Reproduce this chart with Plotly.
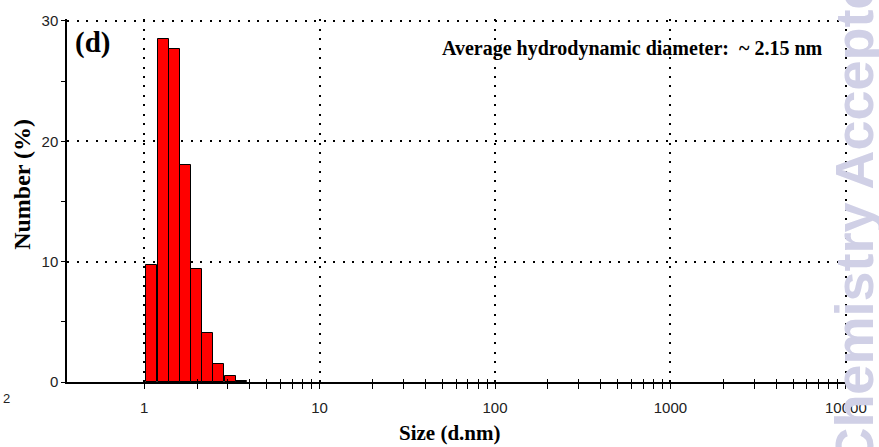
import numpy as np
import plotly.graph_objects as go

# Data
size_nm = [1.106, 1.281, 1.484, 1.718, 1.990, 2.305, 2.669, 3.091, 3.580]
number_pct = [9.7, 28.5, 27.7, 18.0, 9.4, 4.1, 1.5, 0.5, 0.08]
xtick_vals = [1, 10, 100, 1000, 10000]
xtick_text = ["1", "10", "100", "1000", "10000"]
ytick_vals = [0, 10, 20, 30]

bin_width_dec = 0.0628  # Malvern log bin width (decades)
XR = [-0.44, 4.012]
YR = [0, 30.16]

x_log = np.log10(size_nm)
minor_vals = [float(np.log10(m * d)) for d in [1, 10, 100, 1000] for m in range(2, 10)]

fig = go.Figure()
fig.add_trace(go.Bar(
    x=x_log, y=number_pct, width=bin_width_dec,
    marker=dict(color="#ff0000", line=dict(color="black", width=1)),
    showlegend=False,
))
# empty helper trace so the overlay axis (inner tick halves) is drawn
fig.add_trace(go.Scatter(x=[None], y=[None], xaxis="x2", yaxis="y",
                         mode="markers", showlegend=False, hoverinfo="skip"))

grid = dict(showgrid=True, gridcolor="black", gridwidth=2, griddash="2px,7.5px")

fig.update_layout(
    width=879, height=447,
    margin=dict(l=67, r=24, t=16, b=65),
    plot_bgcolor="rgba(0,0,0,0)", paper_bgcolor="white",
    bargap=0,
    xaxis=dict(
        range=XR, tickmode="array",
        tickvals=np.log10(xtick_vals), ticktext=xtick_text,
        ticks="outside", ticklen=5, tickcolor="black", tickwidth=1,
        showline=True, linecolor="black", linewidth=1.5,
        zeroline=False,
        tickfont=dict(family="Liberation Sans, Arial", size=15, color="#222"),
        ticklabelstandoff=6,
        minor=dict(tickvals=minor_vals, ticks="outside", ticklen=5,
                   tickcolor="black", tickwidth=1, showgrid=False),
        **grid,
    ),
    xaxis2=dict(
        overlaying="x", anchor="y", side="bottom", range=XR,
        tickmode="array", tickvals=minor_vals, ticks="inside", ticklen=3,
        tickcolor="black", showticklabels=False, showgrid=False,
        zeroline=False, showline=False,
    ),
    yaxis=dict(
        range=YR, tickmode="array", tickvals=ytick_vals,
        ticks="outside", ticklen=4, tickcolor="black",
        showline=True, linecolor="black", linewidth=1.5,
        zeroline=False,
        tickfont=dict(family="Liberation Sans, Arial", size=15, color="#222"),
        minor=dict(tickvals=[5, 15, 25], ticks="outside", ticklen=4,
                   tickcolor="black", showgrid=False),
        **grid,
    ),
    annotations=[
        dict(text="<b>Chemistry Accepted</b>", textangle=-90, xref="paper", yref="paper",
             x=0.967, y=-0.238, xanchor="left", yanchor="bottom", showarrow=False,
             font=dict(family="Liberation Sans, Arial", size=54, color="#d0d0e6"),
             ),
        dict(text="<b>(d)</b>", xref="paper", yref="paper", x=0.008, y=0.985,
             xanchor="left", yanchor="top", showarrow=False,
             font=dict(family="Liberation Serif, Times New Roman", size=29, color="black")),
        dict(text="<b>Average hydrodynamic diameter:  ~ 2.15 nm</b>", xref="paper", yref="paper",
             x=0.971, y=0.955, xanchor="right", yanchor="top", showarrow=False,
             font=dict(family="Liberation Serif, Times New Roman", size=20, color="black")),
        dict(text="<b>Number (%)</b>", textangle=-90, xref="paper", yref="paper",
             x=-0.058, y=0.545, xanchor="center", yanchor="middle", showarrow=False,
             font=dict(family="Liberation Serif, Times New Roman", size=24, color="black")),
        dict(text="<b>Size (d.nm)</b>", xref="paper", yref="paper",
             x=0.49, y=-0.102, xanchor="center", yanchor="top", showarrow=False,
             font=dict(family="Liberation Serif, Times New Roman", size=21, color="black")),
        dict(text="2", xref="paper", yref="paper",
             x=-0.085, y=-0.02, xanchor="left", yanchor="top", showarrow=False,
             font=dict(family="Liberation Sans, Arial", size=13, color="#222")),
    ],
)

fig.write_html("out.html")
